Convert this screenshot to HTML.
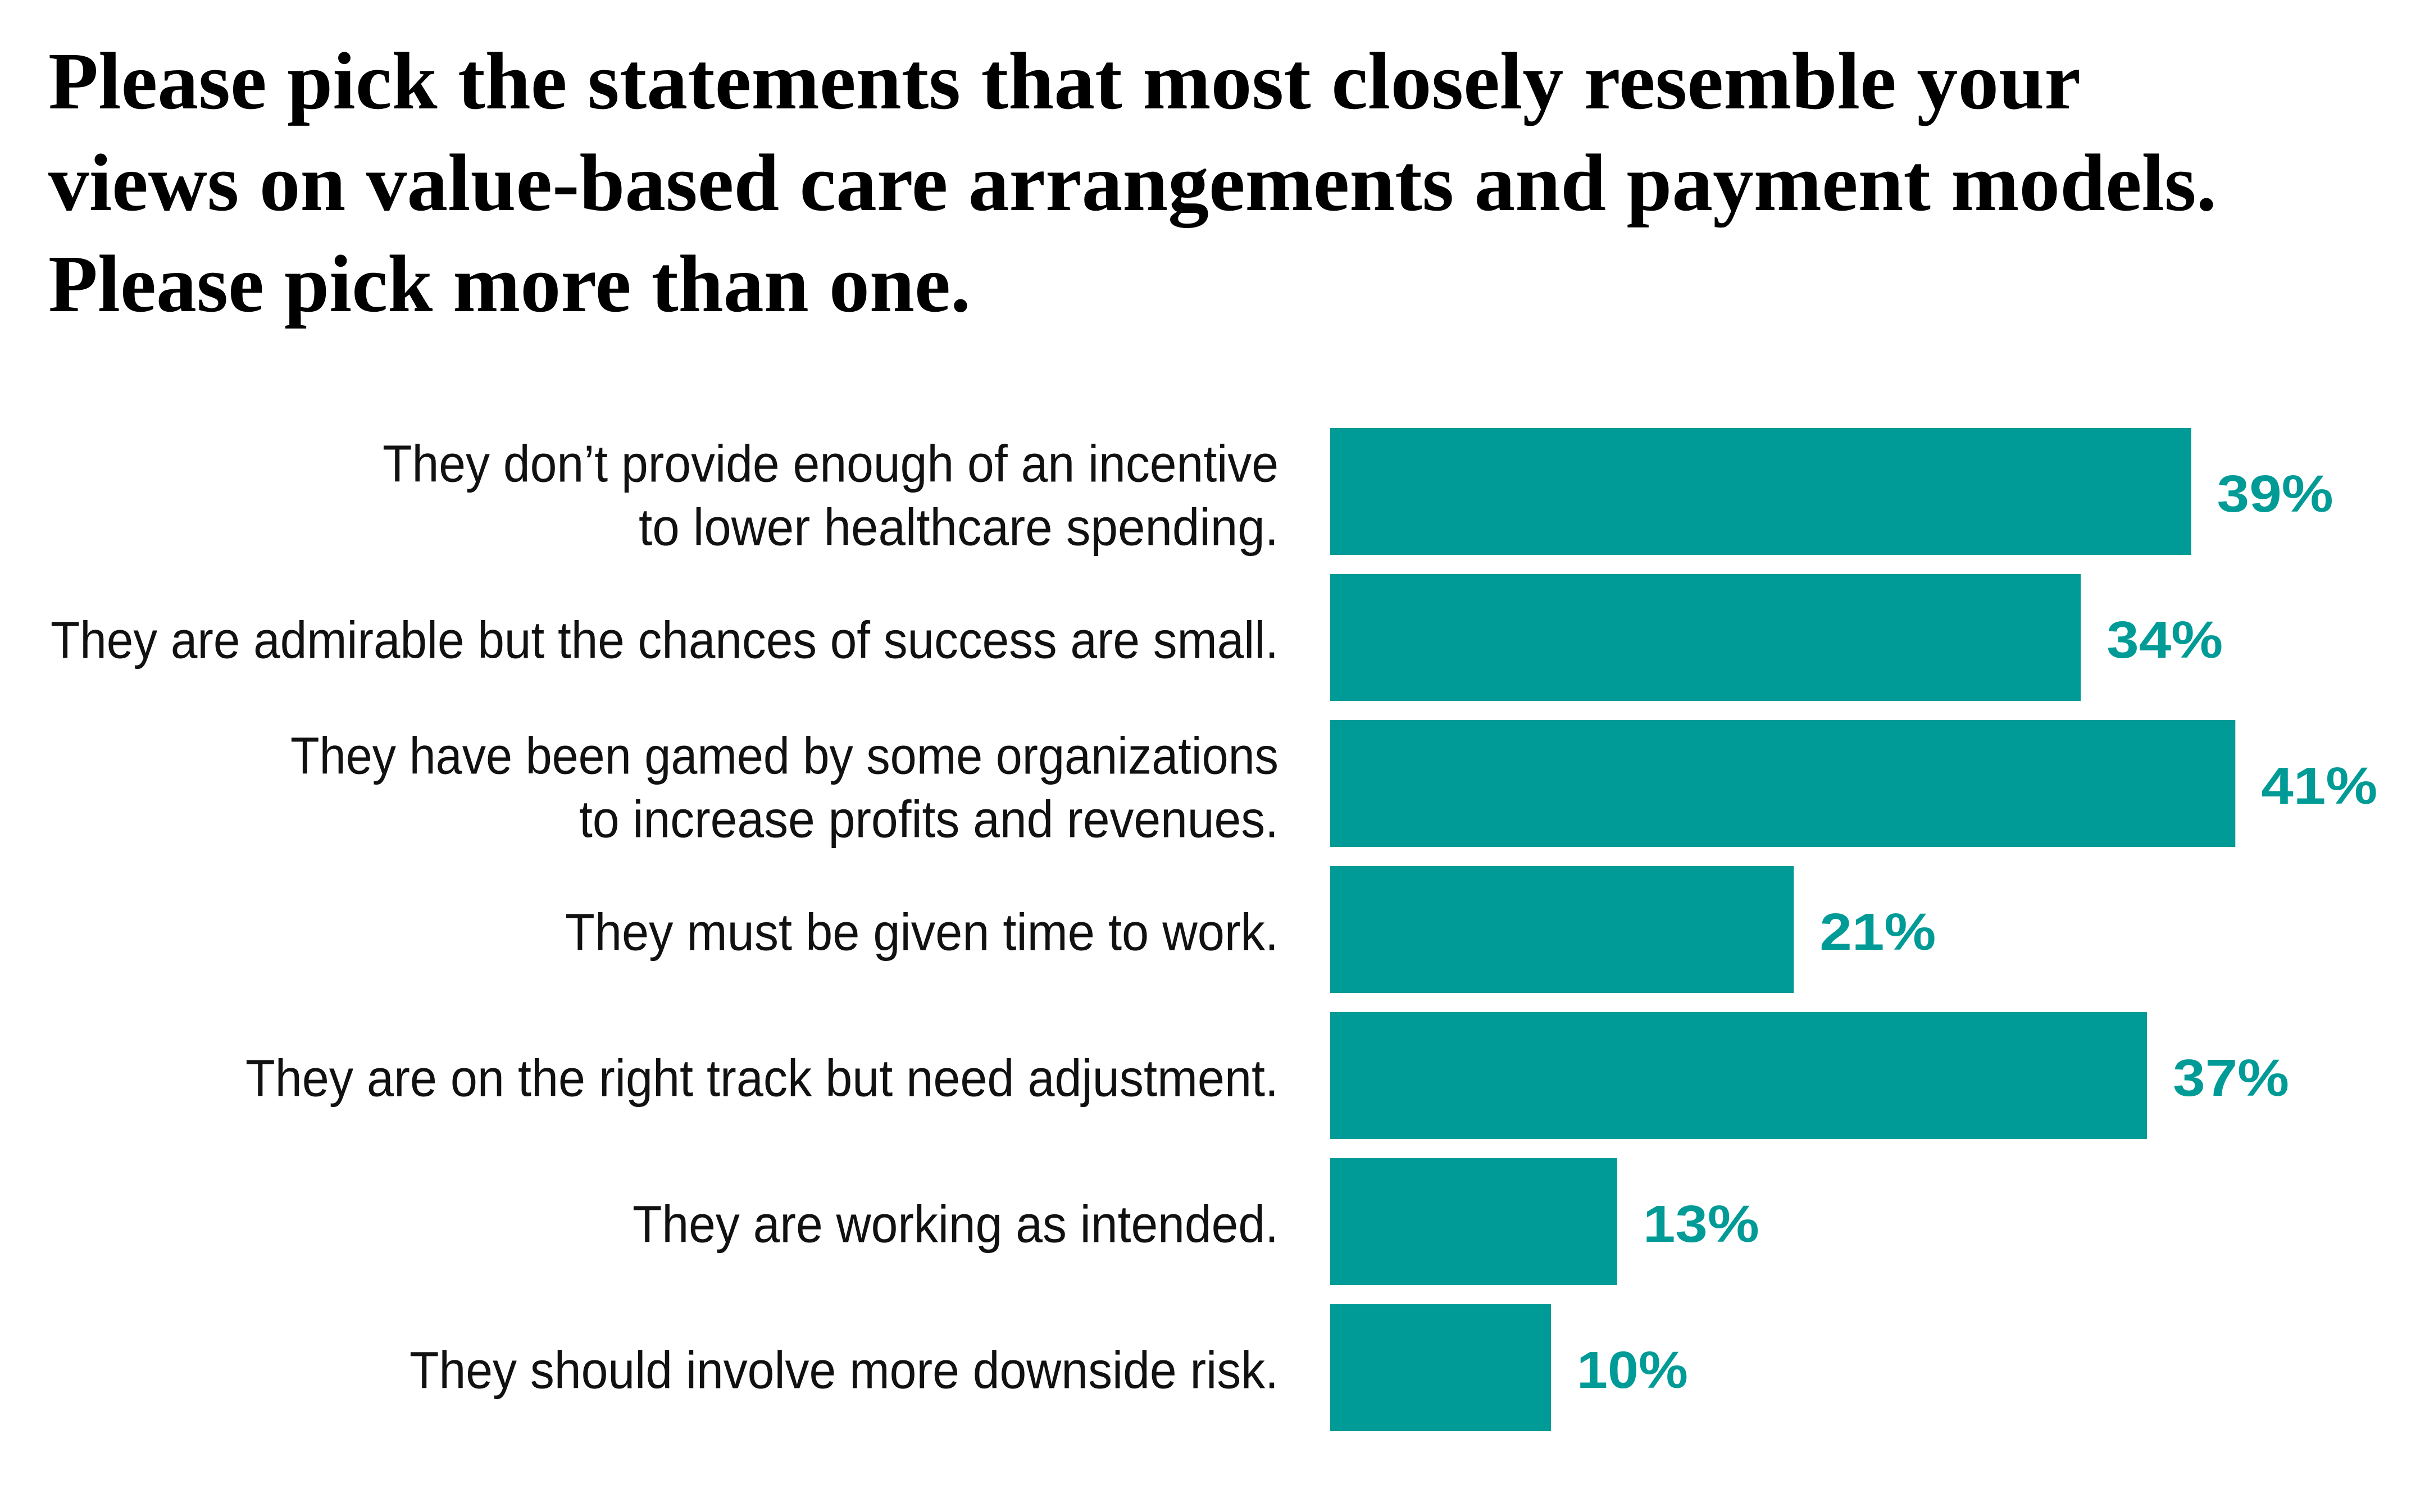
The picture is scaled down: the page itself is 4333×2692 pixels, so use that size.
<!DOCTYPE html>
<html><head><meta charset="utf-8">
<style>
html,body{margin:0;padding:0;background:#fff;}
svg{display:block;}
</style></head>
<body>
<svg id="chart" width="4333" height="2692" viewBox="0 0 4333 2692" xmlns="http://www.w3.org/2000/svg">
<g font-family="'Liberation Serif', serif" font-weight="bold" font-size="145" fill="#000">
<text x="86" y="193" textLength="3618" lengthAdjust="spacingAndGlyphs">Please pick the statements that most closely resemble your</text>
<text x="86" y="374" textLength="3860" lengthAdjust="spacingAndGlyphs">views on value-based care arrangements and payment models.</text>
<text x="86" y="554" textLength="1642" lengthAdjust="spacingAndGlyphs">Please pick more than one.</text>
</g>
<g id="bars"></g>
<g id="labels"></g>
<g id="values"></g>
</svg>
<script>
const categories = [
  ["They don\u2019t provide enough of an incentive", "to lower healthcare spending."],
  ["They are admirable but the chances of success are small."],
  ["They have been gamed by some organizations", "to increase profits and revenues."],
  ["They must be given time to work."],
  ["They are on the right track but need adjustment."],
  ["They are working as intended."],
  ["They should involve more downside risk."]
];
const values = [39, 34, 41, 21, 37, 13, 10];
const valueLabels = ["39%", "34%", "41%", "21%", "37%", "13%", "10%"];

const labelWidths = [[1595,1139],[2186],[1759,1245],[1270],[1839],[1150],[1547]];
const NS = "http://www.w3.org/2000/svg";
const x0 = 2368, pxPer = 39.3;
const top0 = 762, pitch = 260, barH = 226;
const xScale = v => x0 + v * pxPer;
const yScale = i => top0 + i * pitch;
const bars = document.getElementById('bars');
const labels = document.getElementById('labels');
const vals = document.getElementById('values');
values.forEach((v, i) => {
  const y = yScale(i), cy = y + barH / 2;
  const r = document.createElementNS(NS, 'rect');
  
  
  r.setAttribute('x', x0); r.setAttribute('y', y);
  r.setAttribute('width', xScale(v) - x0); r.setAttribute('height', barH);
  r.setAttribute('fill', '#009b96');
  bars.appendChild(r);

  const t = document.createElementNS(NS, 'text');
  
  
  t.setAttribute('x', xScale(v) + 46); t.setAttribute('y', cy + 36);
  t.setAttribute('font-family', "'Liberation Sans', sans-serif");
  t.setAttribute('font-weight', 'bold'); t.setAttribute('font-size', '93');
  t.setAttribute('fill', '#009b96');
  t.setAttribute('textLength', v === 10 ? 198 : 207);
  t.setAttribute('lengthAdjust', 'spacingAndGlyphs');
  t.textContent = valueLabels[i];
  vals.appendChild(t);

  const lines = categories[i];
  lines.forEach((ln, j) => {
    const lt = document.createElementNS(NS, 'text');
    
    
    const by = lines.length === 1 ? cy + 36.5 : cy - 17.5 + j * 113;
    lt.setAttribute('x', 2276 - labelWidths[i][j]); lt.setAttribute('y', by);
    lt.setAttribute('font-family', "'Liberation Sans Narrow', 'Liberation Sans', sans-serif");
    lt.setAttribute('font-size', '93'); lt.setAttribute('fill', '#111');
    lt.setAttribute('textLength', labelWidths[i][j]);
    lt.setAttribute('lengthAdjust', 'spacingAndGlyphs');
    lt.textContent = ln;
    labels.appendChild(lt);
  });
});
</script>
</body></html>
